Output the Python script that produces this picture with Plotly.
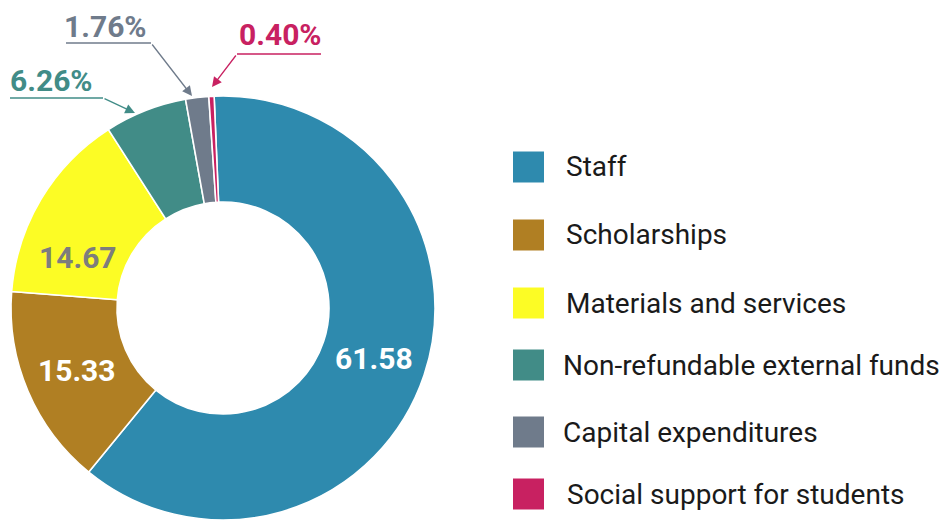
import plotly.graph_objects as go

# Expenditure breakdown (%)
categories = [
    "Staff",
    "Scholarships",
    "Materials and services",
    "Non-refundable external funds",
    "Capital expenditures",
    "Social support for students",
]
shares = [61.58, 15.33, 14.67, 6.26, 1.76, 0.40]
colors = ["#2e8aae", "#b07f23", "#fcfc25", "#418c87", "#6f7b8b", "#c82161"]

W, H = 942, 520
FONT = "Roboto"


def px(x):
    return x / W


def py(y):
    return 1 - y / H


# the two largest slices carry their value inside the ring
inside_idx = {0, 1}
texttemplate = ["%{value:.2f}" if i in inside_idx else "" for i in range(len(shares))]

fig = go.Figure(
    go.Pie(
        labels=categories,
        values=shares,
        sort=False,
        direction="clockwise",
        rotation=-2.4,
        hole=0.5,
        marker=dict(colors=colors, line=dict(color="#ffffff", width=1.6)),
        texttemplate=texttemplate,
        textposition="inside",
        insidetextorientation="horizontal",
        textfont=dict(family=FONT, size=30, color="#ffffff", weight="bold"),
        domain=dict(x=[px(223 - 212), px(223 + 212)], y=[0, py(96)]),
        showlegend=False,
        hoverinfo="label+value",
    )
)

shapes = []
annotations = []

# value of the yellow slice, set lower in its segment in grey
annotations.append(
    dict(
        x=px(78), y=py(257), xref="paper", yref="paper",
        text=f"{shares[2]:.2f}", showarrow=False,
        font=dict(family=FONT, size=30, color="#7d7d7d", weight="bold"),
        xanchor="center", yanchor="middle",
    )
)

# callouts for the small slices: (index, text centre, underline span, arrow tip)
callouts = [
    (3, (51, 80), (10, 103, 98), (135, 113)),
    (4, (105, 26), (66, 151, 43), (192, 96)),
    (5, (280, 35), (237, 321, 54), (212, 87)),
]
for idx, (tx, ty), (ux0, ux1, uy), (ax_, ay_) in callouts:
    col = colors[idx]
    annotations.append(
        dict(
            x=px(tx), y=py(ty), xref="paper", yref="paper",
            text=f"{shares[idx]:.2f}%", showarrow=False,
            font=dict(family=FONT, size=30, color=col, weight="bold"),
            xanchor="center", yanchor="middle",
        )
    )
    tail_x = ux0 if idx == 5 else ux1
    shapes.append(
        dict(type="line", xref="paper", yref="paper",
             x0=px(ux0), x1=px(ux1), y0=py(uy), y1=py(uy),
             line=dict(color=col, width=1.3))
    )
    annotations.append(
        dict(
            x=px(ax_), y=py(ay_), xref="paper", yref="paper",
            ax=tail_x - ax_, ay=uy - ay_, axref="pixel", ayref="pixel",
            text="", showarrow=True, arrowhead=2, arrowsize=1.5,
            arrowwidth=1.3, arrowcolor=col, standoff=0, startstandoff=0,
        )
    )

# legend: colour squares with category names
legend_y = [167, 235, 303, 365, 432, 494]
legend_text_x = [564, 564, 564, 561, 561, 565]
for name, col, cy, txx in zip(categories, colors, legend_y, legend_text_x):
    shapes.append(
        dict(type="rect", xref="paper", yref="paper",
             x0=px(513), x1=px(544), y0=py(cy - 15.5), y1=py(cy + 15.5),
             fillcolor=col, line=dict(width=0))
    )
    annotations.append(
        dict(
            x=px(txx), y=py(cy), xref="paper", yref="paper",
            text=name, showarrow=False, xanchor="left", yanchor="middle",
            font=dict(family=FONT, size=28, color="#1a1a1a"),
        )
    )

fig.update_layout(
    width=W, height=H,
    margin=dict(l=0, r=0, t=0, b=0),
    paper_bgcolor="#ffffff",
    plot_bgcolor="#ffffff",
    shapes=shapes,
    annotations=annotations,
    font=dict(family=FONT),
)

fig.write_html("out.html")
